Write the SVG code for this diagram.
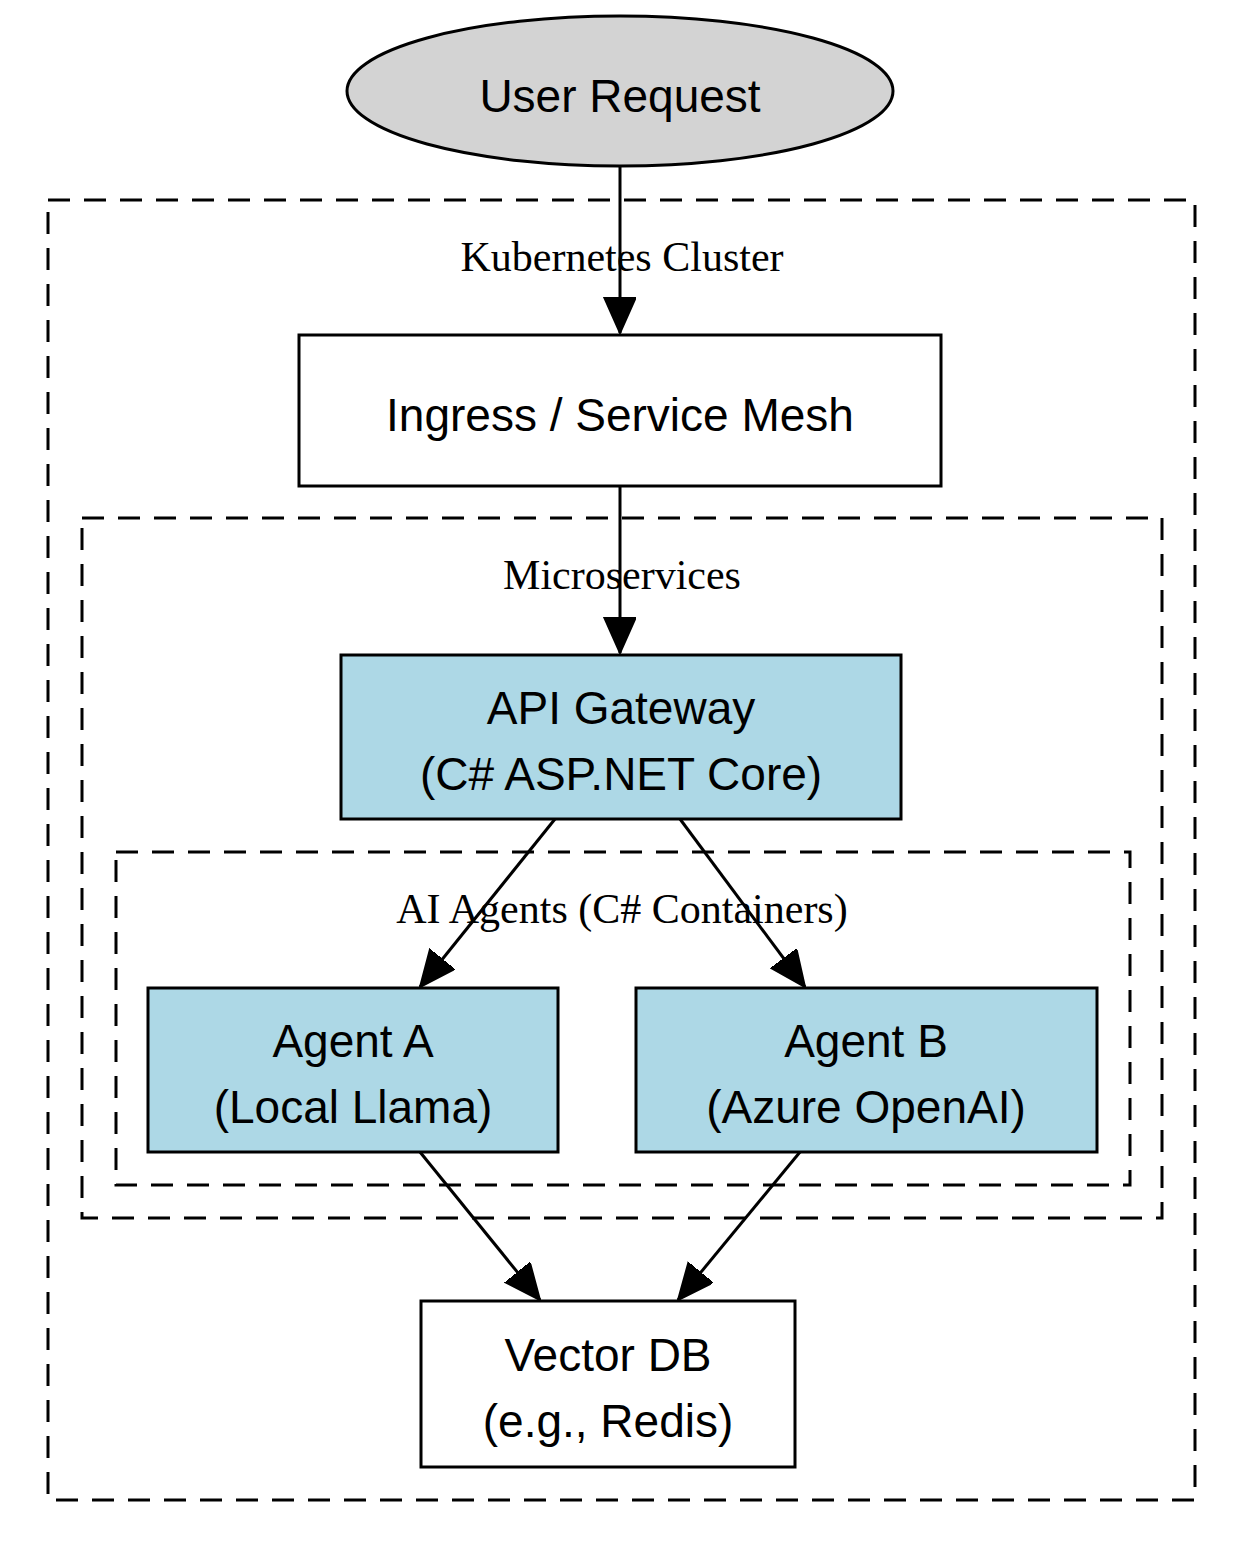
<svg xmlns="http://www.w3.org/2000/svg" width="1246" height="1550" viewBox="0 0 1246 1550">
<style>
.cl{fill:none;stroke:#000;stroke-width:3;stroke-dasharray:22,14}
.cll{font-family:"Liberation Serif",serif;font-size:42px;text-anchor:middle}
.n{stroke:#000;stroke-width:3}
.t{font-family:"Liberation Sans",Arial,sans-serif;font-size:46px;text-anchor:middle}
.e{stroke:#000;stroke-width:3;fill:none;marker-end:url(#a)}
</style>
<defs><marker id="a" markerUnits="userSpaceOnUse" markerWidth="40" markerHeight="34" refX="36" refY="16" orient="auto"><path d="M0,0 L36,16 L0,32 Z" fill="#000" stroke="#000" stroke-width="2"/></marker></defs>
<rect width="1246" height="1550" fill="#fff"/>
<g id="cluster_k8s"><rect class="cl" x="48" y="200" width="1147" height="1300"/><text class="cll" x="622" y="271">Kubernetes Cluster</text></g>
<g id="cluster_ms"><rect class="cl" x="82" y="518" width="1080" height="700"/><text class="cll" x="622" y="589">Microservices</text></g>
<g id="cluster_ai"><rect class="cl" x="116" y="852" width="1014" height="333"/><text class="cll" x="622" y="923">AI Agents (C# Containers)</text></g>
<g id="user"><ellipse class="n" cx="620" cy="91" rx="273" ry="75" fill="#d3d3d3"/><text class="t" x="620" y="112">User Request</text></g>
<g id="ingress"><rect class="n" x="299" y="335" width="642" height="151" fill="#fff"/><text class="t" x="620" y="431">Ingress / Service Mesh</text></g>
<g id="api"><rect class="n" x="341" y="655" width="560" height="164" fill="#add8e6"/><text class="t" x="621" y="724">API Gateway</text><text class="t" x="621" y="790">(C# ASP.NET Core)</text></g>
<g id="agentA"><rect class="n" x="148" y="988" width="410" height="164" fill="#add8e6"/><text class="t" x="353" y="1057">Agent A</text><text class="t" x="353" y="1123">(Local Llama)</text></g>
<g id="agentB"><rect class="n" x="636" y="988" width="461" height="164" fill="#add8e6"/><text class="t" x="866" y="1057">Agent B</text><text class="t" x="866" y="1123">(Azure OpenAI)</text></g>
<g id="vdb"><rect class="n" x="421" y="1301" width="374" height="166" fill="#fff"/><text class="t" x="608" y="1371">Vector DB</text><text class="t" x="608" y="1437">(e.g., Redis)</text></g>
<g id="edges">
<path class="e" d="M620,167 L620,333"/>
<path class="e" d="M620,486 L620,653"/>
<path class="e" d="M555,819 L420,987"/>
<path class="e" d="M680,819 L805,987"/>
<path class="e" d="M420,1152 L540,1300"/>
<path class="e" d="M800,1152 L678,1300"/>
</g>
</svg>
